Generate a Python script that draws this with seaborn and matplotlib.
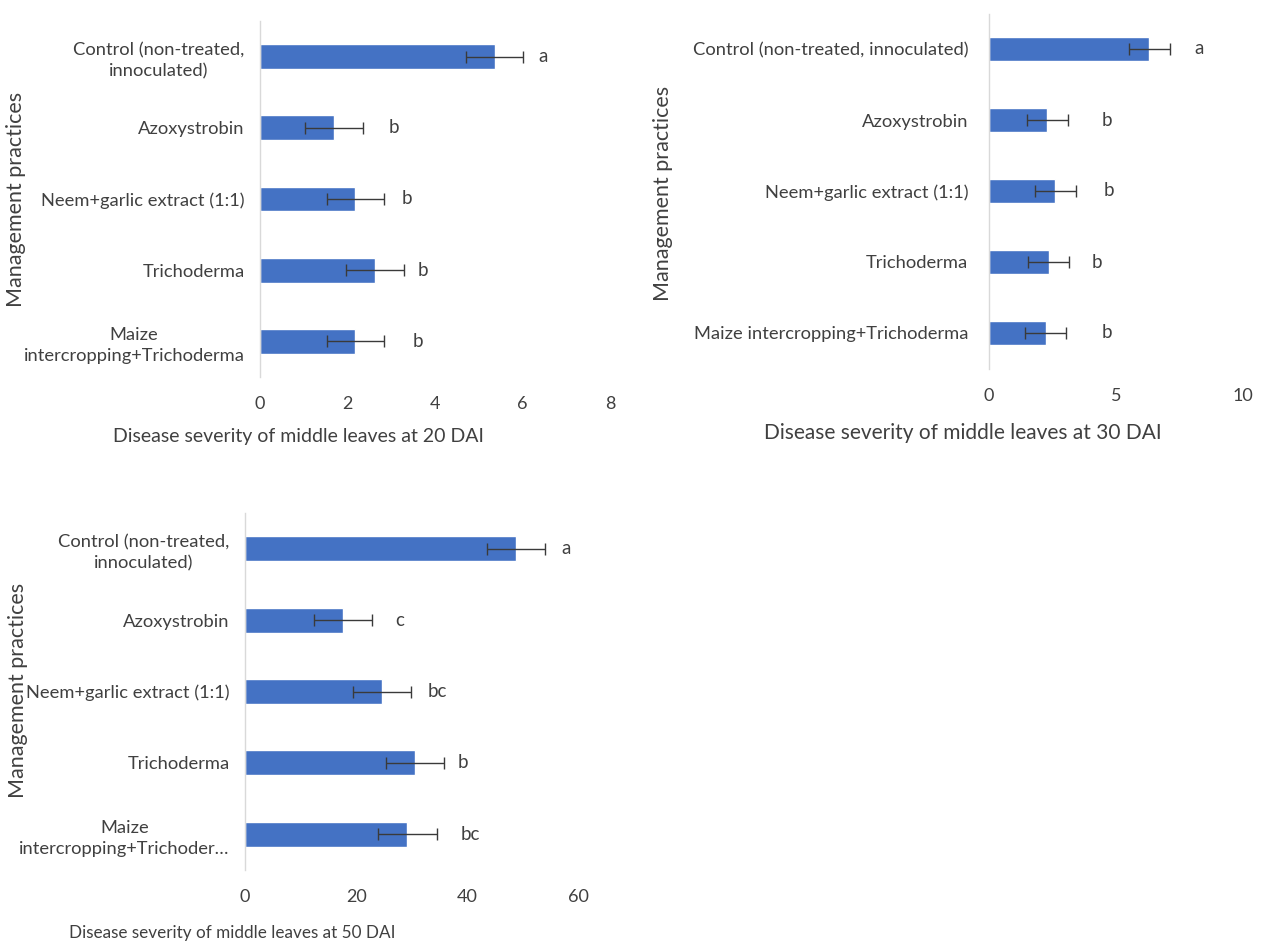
import numpy as np
import pandas as pd
import matplotlib
matplotlib.use("Agg")
import matplotlib.pyplot as plt
import seaborn as sns

sns.set_theme(style="white")
plt.rcParams['font.family'] = ['Lato', 'DejaVu Sans']

# Treatment names (wrapped versions for the narrower panels)
treatments = [
    "Control (non-treated, innoculated)",
    "Azoxystrobin",
    "Neem+garlic extract (1:1)",
    "Trichoderma",
    "Maize intercropping+Trichoderma",
]
labels_20 = [
    "Control (non-treated,\ninnoculated)",
    "Azoxystrobin",
    "Neem+garlic extract (1:1)",
    "Trichoderma",
    "Maize\nintercropping+Trichoderma",
]
labels_50 = [
    "Control (non-treated,\ninnoculated)",
    "Azoxystrobin",
    "Neem+garlic extract (1:1)",
    "Trichoderma",
    "Maize\nintercropping+Trichoder\u2026",
]

# Disease severity means and standard errors
sev_20 = [5.36, 1.69, 2.18, 2.62, 2.18]
err_20 = [0.66, 0.66, 0.65, 0.66, 0.65]
grp_20 = ["a", "b", "b", "b", "b"]

sev_30 = [6.31, 2.30, 2.61, 2.35, 2.23]
err_30 = [0.81, 0.82, 0.80, 0.80, 0.80]
grp_30 = ["a", "b", "b", "b", "b"]

sev_50 = [48.8, 17.6, 24.7, 30.6, 29.2]
err_50 = [5.2, 5.2, 5.2, 5.25, 5.3]
grp_50 = ["a", "c", "bc", "b", "bc"]

BAR = "#4472C4"
TXT = "#404040"
W, H = 1261, 944


def px_axes(x0, x1, y0, y1):
    return [x0 / W, 1 - y1 / H, (x1 - x0) / W, (y1 - y0) / H]


fig = plt.figure(figsize=(W / 100, H / 100), dpi=100)
fig.patch.set_facecolor("white")

panels = [
    dict(rect=px_axes(260, 610, 21, 377), labels=labels_20, sev=sev_20, err=err_20,
         grp=grp_20, grp_x=[6.48, 3.05, 3.36, 3.73, 3.60], xlim=8, ticks=[0, 2, 4, 6, 8],
         xlabel="Disease severity of middle leaves at 20 DAI",
         xl=(0.11, -0.166), yl=(-0.697, 0.5), pad=11, xfs=14, yfs=15.5),
    dict(rect=px_axes(989, 1243, 13.5, 368.5), labels=treatments, sev=sev_30, err=err_30,
         grp=grp_30, grp_x=[8.27, 4.63, 4.70, 4.26, 4.63], xlim=10, ticks=[0, 5, 10],
         xlabel="Disease severity of middle leaves at 30 DAI",
         xl=(-0.102, -0.182), yl=(-1.283, 0.494), pad=15, xfs=15, yfs=15.5),
    dict(rect=px_axes(245, 578.3, 513, 870), labels=labels_50, sev=sev_50, err=err_50,
         grp=grp_50, grp_x=[57.8, 27.8, 34.6, 39.2, 40.5], xlim=60, ticks=[0, 20, 40, 60],
         xlabel="Disease severity of middle leaves at 50 DAI",
         xl=(-0.039, -0.176), yl=(-0.681, 0.504), pad=11, xfs=12.3, yfs=15.5),
]

for p in panels:
    ax = fig.add_axes(p["rect"])
    df = pd.DataFrame({"treatment": p["labels"], "severity": p["sev"]})
    sns.barplot(data=df, x="severity", y="treatment", orient="h", color=BAR,
                saturation=1, width=0.35, errorbar=None, ax=ax)
    ypos = np.arange(len(p["sev"]))
    ax.errorbar(p["sev"], ypos, xerr=p["err"], fmt="none", ecolor="#3a3a3a",
                elinewidth=1.0, capsize=4, capthick=1.0)
    for gx, y, g in zip(p["grp_x"], ypos, p["grp"]):
        ax.text(gx, y, g, ha="center", va="center", fontsize=13.5, color=TXT)

    ax.set_xlim(0, p["xlim"])
    ax.set_xticks(p["ticks"])
    ax.set_ylim(len(p["sev"]) - 0.5, -0.5)
    for s in ["top", "right", "bottom"]:
        ax.spines[s].set_visible(False)
    ax.spines["left"].set_color("#d9d9d9")
    ax.spines["left"].set_linewidth(1.0)
    ax.tick_params(axis="y", length=0, pad=p["pad"], labelsize=13.2, labelcolor=TXT)
    ax.tick_params(axis="x", length=0, pad=14, labelsize=13, labelcolor=TXT)
    for t in ax.get_yticklabels():
        t.set_multialignment("center")
        t.set_linespacing(1.4)

    ax.set_xlabel(p["xlabel"], fontsize=p["xfs"], color=TXT)
    ax.xaxis.set_label_coords(*p["xl"])
    ax.xaxis.label.set_va("center")
    ax.set_ylabel("Management practices", fontsize=p["yfs"], color=TXT)
    ax.yaxis.set_label_coords(*p["yl"])
    ax.yaxis.label.set_va("center")
    ax.set_facecolor("none")

fig.savefig("out.png", dpi=100, facecolor="white")
